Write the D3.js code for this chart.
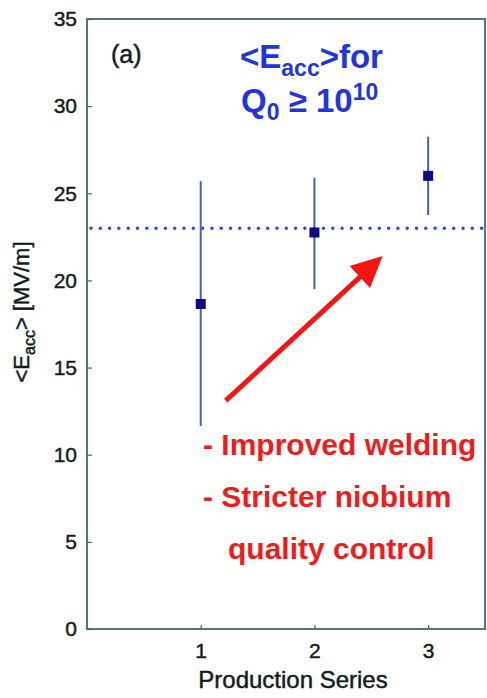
<!DOCTYPE html>
<html>
<head>
<meta charset="utf-8">
<script src="https://cdn.jsdelivr.net/npm/d3@7"></script>
<style>
  body { margin: 0; background: #fff; }
  text { font-family: "Liberation Sans", Arial, Helvetica, sans-serif; }
</style>
</head>
<body>
<div id="chart-area"></div>
<script>
// data
var series = [1, 2, 3]
var meanEacc = [18.65, 22.75, 26.0]
var errLow = [11.65, 19.5, 23.75]
var errHigh = [25.7, 25.9, 28.25]
var target = 23.0
var yTicks = [0, 5, 10, 15, 20, 25, 30, 35]
var xTicks = [1, 2, 3]
var notes = ["- Improved welding", "- Stricter niobium", "quality control"]
var arrowFrom = [1.22, 13.1]
var arrowTo = [2.6, 21.4]

// margin
var margin = { left: 87, right: 2, top: 19, bottom: 69 }

// dimensions
var width = 487 - margin.left - margin.right,
    height = 698 - margin.top - margin.bottom

var svg = d3.select("#chart-area")
    .append("svg")
        .attr("width", 487)
        .attr("height", 698)

var g = svg.append("g")
    .attr("transform", "translate(" + margin.left + ", " + margin.top + ")")

// scales
var x = d3.scaleLinear()
    .domain([0, 3.5])
    .range([0, width])

var y = d3.scaleLinear()
    .domain([0, 35])
    .range([height, 0])

var frameColor = "#3f6a6c"
var inkColor = "#141c1c"

// make the thin sans labels a bit heavier, like the scan
function heavy(sel) {
    sel.attr("fill", inkColor)
        .attr("stroke", inkColor)
        .attr("stroke-width", 0.45)
        .attr("font-family", "'Liberation Sans', Arial, sans-serif")
}

// Y axis
var yAxisCall = d3.axisLeft(y)
    .tickValues(yTicks)
    .tickSizeInner(-5)
    .tickSizeOuter(0)
    .tickPadding(10)
g.append("g")
    .attr("class", "y axis")
    .call(yAxisCall)
    .call(function (a) {
        a.select(".domain").remove()
        a.selectAll("line").attr("stroke", frameColor).attr("stroke-width", 1.2)
        a.selectAll("text").attr("font-size", "21px").call(heavy)
    })

// X axis
var xAxisCall = d3.axisBottom(x)
    .tickValues(xTicks)
    .tickFormat(d3.format("d"))
    .tickSizeInner(-4)
    .tickSizeOuter(0)
    .tickPadding(14)
g.append("g")
    .attr("class", "x axis")
    .attr("transform", "translate(0," + height + ")")
    .call(xAxisCall)
    .call(function (a) {
        a.select(".domain").remove()
        a.selectAll("line").attr("stroke", frameColor).attr("stroke-width", 1.2)
        a.selectAll("text").attr("font-size", "21px").call(heavy)
    })

// frame
g.append("rect")
    .attr("x", 0)
    .attr("y", 0)
    .attr("width", width)
    .attr("height", height)
    .attr("fill", "none")
    .attr("stroke", frameColor)
    .attr("stroke-width", 1.8)

// target line
g.append("line")
    .attr("x1", x(0) + 4)
    .attr("x2", x(3.5))
    .attr("y1", y(target))
    .attr("y2", y(target))
    .attr("stroke", "#3348d6")
    .attr("stroke-width", 3.5)
    .attr("stroke-linecap", "round")
    .attr("stroke-dasharray", "0,9.3")

// error bars
g.selectAll(".err")
    .data(series)
    .enter()
    .append("line")
        .attr("class", "err")
        .attr("x1", function (d) { return x(d) })
        .attr("x2", function (d) { return x(d) })
        .attr("y1", function (d, i) { return y(errLow[i]) })
        .attr("y2", function (d, i) { return y(errHigh[i]) })
        .attr("stroke", "#4863a6")
        .attr("stroke-width", 2)

// markers
g.selectAll(".pt")
    .data(series)
    .enter()
    .append("rect")
        .attr("class", "pt")
        .attr("x", function (d) { return x(d) - 5 })
        .attr("y", function (d, i) { return y(meanEacc[i]) - 5 })
        .attr("width", 10)
        .attr("height", 10)
        .attr("fill", "#0c0c84")

// arrow
var ax1 = x(arrowFrom[0]), ay1 = y(arrowFrom[1])
var ax2 = x(arrowTo[0]), ay2 = y(arrowTo[1])
var len = Math.sqrt((ax2 - ax1) * (ax2 - ax1) + (ay2 - ay1) * (ay2 - ay1))
var ux = (ax2 - ax1) / len, uy = (ay2 - ay1) / len
var headLen = 31, headHalf = 15
var bx = ax2 - ux * headLen, by = ay2 - uy * headLen
g.append("line")
    .attr("x1", ax1)
    .attr("y1", ay1)
    .attr("x2", bx + ux * 4)
    .attr("y2", by + uy * 4)
    .attr("stroke", "#f41414")
    .attr("stroke-width", 5)
g.append("path")
    .attr("d", "M" + ax2 + "," + ay2 +
        "L" + (bx - uy * headHalf) + "," + (by + ux * headHalf) +
        "L" + (bx + uy * headHalf) + "," + (by - ux * headHalf) + "Z")
    .attr("fill", "#f41414")

// panel label
g.append("text")
    .attr("x", 24)
    .attr("y", 44)
    .attr("font-size", "25px")
    .call(heavy)
    .text("(a)")

// title
var t1 = g.append("text")
    .attr("x", 153)
    .attr("y", 49)
    .attr("font-size", "33px")
    .attr("font-weight", "bold")
    .attr("fill", "#2234dc")
t1.append("tspan").text("<E")
t1.append("tspan").attr("font-size", "23px").attr("dy", 8).text("acc")
t1.append("tspan").attr("dy", -8).text(">for")

var t2 = g.append("text")
    .attr("x", 154)
    .attr("y", 93)
    .attr("font-size", "33px")
    .attr("font-weight", "bold")
    .attr("fill", "#2234dc")
t2.append("tspan").text("Q")
t2.append("tspan").attr("font-size", "23px").attr("dy", 8).text("0")
t2.append("tspan").attr("dy", -8).text(" \u2265 10")
t2.append("tspan").attr("font-size", "23px").attr("dy", -12).text("10")

// notes
g.selectAll(".note")
    .data(notes)
    .enter()
    .append("text")
        .attr("class", "note")
        .attr("x", function (d, i) { return i == 2 ? 141 : 116 })
        .attr("y", function (d, i) { return 436 + i * 52 })
        .attr("font-size", "30px")
        .attr("font-weight", "bold")
        .attr("fill", "#f01c1c")
        .text(function (d) { return d })

// X Label
svg.append("text")
    .attr("x", 293)
    .attr("y", 688)
    .attr("font-size", "24px")
    .attr("text-anchor", "middle")
    .call(heavy)
    .text("Production Series")

// Y Label
var yl = svg.append("text")
    .attr("transform", "translate(29, 312) rotate(-90)")
    .attr("font-size", "22px")
    .attr("text-anchor", "middle")
    .call(heavy)
yl.append("tspan").text("<E")
yl.append("tspan").attr("font-size", "16px").attr("dy", 6).text("acc")
yl.append("tspan").attr("dy", -6).text("> [MV/m]")
</script>
</body>
</html>
